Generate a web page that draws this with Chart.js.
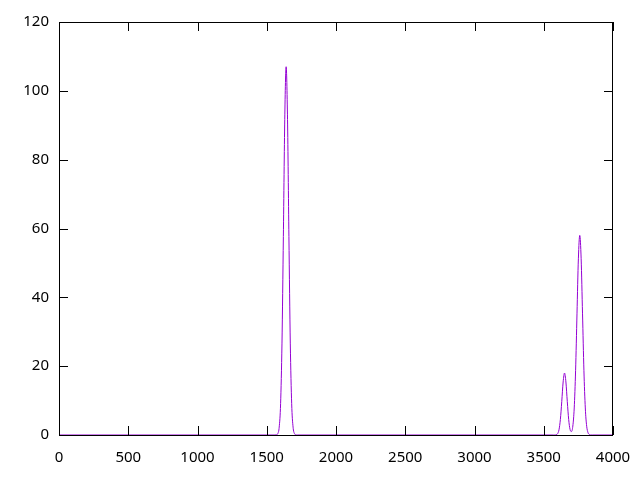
<!DOCTYPE html>
<html>
<head>
<meta charset="utf-8">
<script src="https://cdn.jsdelivr.net/npm/chart.js@4"></script>
<style>
html,body{margin:0;padding:0;background:#fff;}
#wrap{width:640px;height:480px;}
</style>
</head>
<body>
<div id="wrap"><canvas id="c" width="640" height="480"></canvas></div>
<script>
const xValues = [0,
  1560,1570,1580,1590,1600,1610,1620,1630,1640,1650,1660,1670,1680,1690,1700,1710,1720,
  3570,3580,3590,3600,3610,3620,3630,3640,3650,3660,3670,3680,3690,3700,3710,3720,3730,3740,3750,3760,3770,3780,3790,3800,3810,3820,3830,3840,3850,
  4000];
const yValues = [0,
  0,0.06,0.41,2.3,9.1,26.7,57.7,91.7,107,91.7,57.7,26.7,9.1,2.3,0.41,0.06,0,
  0,0,0.07,0.38,1.5,4.5,9.7,15.4,18,15.4,9.7,4.5,1.6,1.0,2.6,7.85,18.8,35.2,51.2,58,51.2,35.2,18.8,7.85,2.55,0.64,0.13,0,0,
  0];
const xTicks = [0,500,1000,1500,2000,2500,3000,3500,4000];
const yTicks = [0,20,40,60,80,100,120];

const points = xValues.map((x,i)=>({x:x, y:yValues[i]}));

const frameTicks = {
  id:'frameTicks',
  afterDraw(chart){
    const ctx = chart.ctx, a = chart.chartArea;
    const xs = chart.scales.x, ys = chart.scales.y;
    const L = 9;
    ctx.save();
    ctx.strokeStyle = '#000';
    ctx.lineWidth = 1;
    ctx.beginPath();
    xTicks.forEach(v=>{
      const px = Math.round(xs.getPixelForValue(v)) + 0.5;
      ctx.moveTo(px, a.bottom); ctx.lineTo(px, a.bottom - L);
      ctx.moveTo(px, a.top); ctx.lineTo(px, a.top + L);
    });
    yTicks.forEach(v=>{
      const py = Math.round(ys.getPixelForValue(v)) + 0.5;
      ctx.moveTo(a.left, py); ctx.lineTo(a.left + L, py);
      ctx.moveTo(a.right, py); ctx.lineTo(a.right - L, py);
    });
    ctx.stroke();
    ctx.strokeRect(Math.round(a.left)+0.5, Math.round(a.top)+0.5, Math.round(a.right-a.left)-1, Math.round(a.bottom-a.top));
    ctx.restore();
  }
};

new Chart(document.getElementById('c'), {
  type:'line',
  data:{datasets:[{
    data: points,
    borderColor:'#9400d3',
    borderWidth:1,
    pointRadius:0,
    fill:false,
    cubicInterpolationMode:'monotone'
  }]},
  options:{
    responsive:false,
    animation:false,
    events:[],
    layout:{padding:{left:0,right:27,top:22,bottom:0}},
    plugins:{legend:{display:false},tooltip:{enabled:false},title:{display:false}},
    scales:{
      x:{
        type:'linear', min:0, max:4000,
        afterBuildTicks(s){ s.ticks = xTicks.map(v=>({value:v})); },
        afterFit(s){ s.height = 45; s.paddingLeft = 0; s.paddingRight = 0; },
        grid:{display:false, drawTicks:false},
        border:{display:false},
        ticks:{padding:14, color:'#000', font:{family:'Noto Sans', size:15}, maxRotation:0, autoSkip:false,
               callback:(v)=>String(v)}
      },
      y:{
        type:'linear', min:0, max:120,
        afterBuildTicks(s){ s.ticks = yTicks.map(v=>({value:v})); },
        afterFit(s){ s.width = 59; s.paddingTop = 0; s.paddingBottom = 0; },
        grid:{display:false, drawTicks:false},
        border:{display:false},
        ticks:{padding:10, color:'#000', font:{family:'Noto Sans', size:15}, autoSkip:false,
               callback:(v)=>String(v)}
      }
    }
  },
  plugins:[frameTicks]
});
</script>
</body>
</html>
